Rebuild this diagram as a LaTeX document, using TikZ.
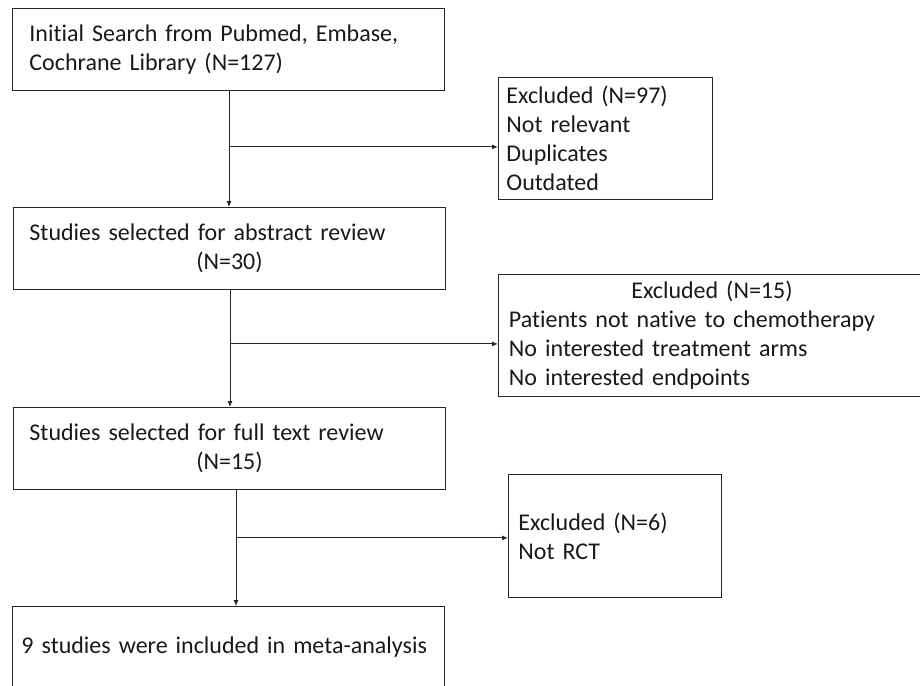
\documentclass[tikz,border=0pt]{standalone}
\usepackage{fontspec}
\setmainfont{Carlito}[Ligatures=NoCommon]
\usetikzlibrary{arrows.meta,calc}
\begin{document}
\begin{tikzpicture}[x=1pt,y=-1pt,
  box/.style={draw=black!85, line width=0.9pt, anchor=north west, inner xsep=0pt, inner ysep=0pt,
    align=left, font=\fontsize{24}{29}\selectfont, text=black!90},
  arr/.style={draw=black!85, line width=0.9pt, -{Latex[length=6pt,width=5pt]}},
  ln/.style={draw=black!85, line width=0.9pt}]
\useasboundingbox (0,0) rectangle (920,685);
% main column
\node[box, minimum width=432pt, minimum height=82pt, text width=398pt] (b1) at (12,8)
  {Initial Search from Pubmed, Embase,\\Cochrane Library (N=127)};
\node[box, minimum width=432pt, minimum height=82pt, text width=400pt] (b2) at (13,207)
  {Studies selected for abstract review\\\hspace*{\fill}(N=30)\hspace*{\fill}\null};
\node[box, minimum width=432pt, minimum height=82pt, text width=400pt] (b3) at (13,407)
  {Studies selected for full text review\\\hspace*{\fill}(N=15)\hspace*{\fill}\null};
\node[box, minimum width=432pt, minimum height=82pt, text width=414pt] (b4) at (12,606)
  {9 studies were included in meta-analysis};
% exclusion boxes
\node[box, minimum width=214pt, minimum height=122pt, text width=198pt] (e1) at (498,77)
  {Excluded (N=97)\\Not relevant\\Duplicates\\Outdated};
\node[box, minimum width=427pt, minimum height=122pt, text width=406pt] (e2) at (498,274)
  {\hspace*{\fill}Excluded (N=15)\hspace*{\fill}\null\\Patients not native to chemotherapy\\No interested treatment arms\\No interested endpoints};
\node[box, minimum width=213pt, minimum height=123pt, text width=193pt] (e3) at (508,474)
  {Excluded (N=6)\\Not RCT};
% connectors
\coordinate (s1) at ($(b1.south west)+(217,0)$);
\coordinate (j1) at ($(s1)+(0,56)$);
\draw[arr] (s1) -- (s1 |- b2.north);
\draw[arr] (j1) -- (j1 -| e1.west);
\coordinate (s2) at ($(b2.south west)+(217,0)$);
\coordinate (j2) at ($(s2)+(0,54)$);
\draw[arr] (s2) -- (s2 |- b3.north);
\draw[arr] (j2) -- (j2 -| e2.west);
\coordinate (s3) at ($(b3.south west)+(223,0)$);
\coordinate (j3) at ($(s3)+(0,48)$);
\draw[arr] (s3) -- (s3 |- b4.north);
\draw[arr] (j3) -- (j3 -| e3.west);
\end{tikzpicture}
\end{document}
